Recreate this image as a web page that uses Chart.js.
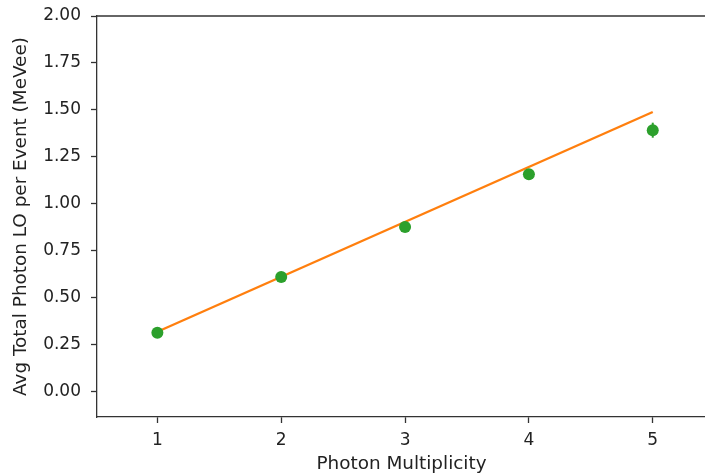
<!DOCTYPE html>
<html>
<head>
<meta charset="utf-8">
<script src="https://cdn.jsdelivr.net/npm/chart.js@4"></script>
<style>
  html, body { margin: 0; padding: 0; background: #fff; overflow: hidden; }
  #wrap { width: 705px; height: 476px; overflow: hidden; }
  canvas { display: block; }
</style>
</head>
<body>
<div id="wrap"><canvas id="loChart" width="712" height="476"></canvas></div>
<script>
const multiplicity = [1, 2, 3, 4, 5];
const avgLO = [0.314, 0.61, 0.876, 1.158, 1.392];
const avgLOErr = [0.01, 0.012, 0.015, 0.02, 0.04];
const fitX = [1, 5];
const fitY = [0.319, 1.489];
const xTicks = [1, 2, 3, 4, 5];
const yTicks = [0, 0.25, 0.5, 0.75, 1, 1.25, 1.5, 1.75, 2];

const axisColor = "#333333";
const tickFont = { family: "DejaVu Sans", size: 17 };
const titleFont = { family: "DejaVu Sans", size: 18.4 };

// top spine (right one is cut off in the original)
const topSpine = {
  id: "topSpine",
  afterDraw(chart) {
    const { ctx, chartArea } = chart;
    ctx.save();
    ctx.strokeStyle = axisColor;
    ctx.lineWidth = 1.3;
    ctx.beginPath();
    ctx.moveTo(chartArea.left, chartArea.top);
    ctx.lineTo(chartArea.right, chartArea.top);
    ctx.stroke();
    ctx.restore();
  },
};

const errorBars = {
  id: "errorBars",
  beforeDatasetsDraw(chart) {
    const { ctx, scales } = chart;
    ctx.save();
    ctx.strokeStyle = "#2ca02c";
    ctx.lineWidth = 2;
    multiplicity.forEach((m, i) => {
      const px = scales.x.getPixelForValue(m);
      ctx.beginPath();
      ctx.moveTo(px, scales.y.getPixelForValue(avgLO[i] - avgLOErr[i]));
      ctx.lineTo(px, scales.y.getPixelForValue(avgLO[i] + avgLOErr[i]));
      ctx.stroke();
    });
    ctx.restore();
  },
};

const data = {
  datasets: [
    {
      label: "data",
      data: multiplicity.map((m, i) => ({ x: m, y: avgLO[i] })),
      backgroundColor: "#2ca02c",
      borderColor: "#2ca02c",
      pointRadius: 6,
      pointBorderWidth: 0,
      order: 0,
    },
    {
      label: "fit",
      data: fitX.map((x, i) => ({ x: x, y: fitY[i] })),
      showLine: true,
      borderColor: "#ff7f0e",
      borderWidth: 2.4,
      pointRadius: 0,
      order: 1,
    },
  ],
};

const config = {
  type: "scatter",
  data: data,
  plugins: [topSpine, errorBars],
  options: {
    responsive: false,
    animation: false,
    layout: { padding: { top: 16, right: 0, left: 0, bottom: 0 } },
    plugins: { legend: { display: false }, tooltip: { enabled: false } },
    scales: {
      x: {
        type: "linear",
        min: 0.5125,
        max: 5.43,
        afterBuildTicks: (axis) => {
          axis.ticks = xTicks.map((v) => ({ value: v }));
        },
        afterFit: (axis) => {
          axis.height = 59;
          axis.paddingLeft = 0;
          axis.paddingRight = 0;
        },
        ticks: { color: "#222", font: tickFont, padding: 7, maxRotation: 0 },
        grid: {
          drawOnChartArea: false,
          drawTicks: true,
          tickLength: 6,
          tickWidth: 1.3,
          tickColor: axisColor,
        },
        border: { color: axisColor, width: 1.3 },
        title: {
          display: true,
          text: "Photon Multiplicity",
          color: "#222",
          font: titleFont,
          padding: { top: 0, bottom: 1 },
        },
      },
      y: {
        type: "linear",
        min: -0.135,
        max: 2.0,
        afterBuildTicks: (axis) => {
          axis.ticks = yTicks.map((v) => ({ value: v }));
        },
        afterFit: (axis) => {
          axis.width = 97;
          axis.paddingTop = 0;
          axis.paddingBottom = 0;
        },
        ticks: {
          color: "#222",
          font: tickFont,
          padding: 10,
          callback: (v) => v.toFixed(2),
        },
        grid: {
          drawOnChartArea: false,
          drawTicks: true,
          tickLength: 6,
          tickWidth: 1.3,
          tickColor: axisColor,
        },
        border: { color: axisColor, width: 1.3 },
        title: {
          display: true,
          text: "Avg Total Photon LO per Event (MeVee)",
          color: "#222",
          font: titleFont,
          padding: { top: 10, bottom: 0 },
        },
      },
    },
  },
};

const loChart = new Chart(document.getElementById("loChart"), config);
</script>
</body>
</html>
